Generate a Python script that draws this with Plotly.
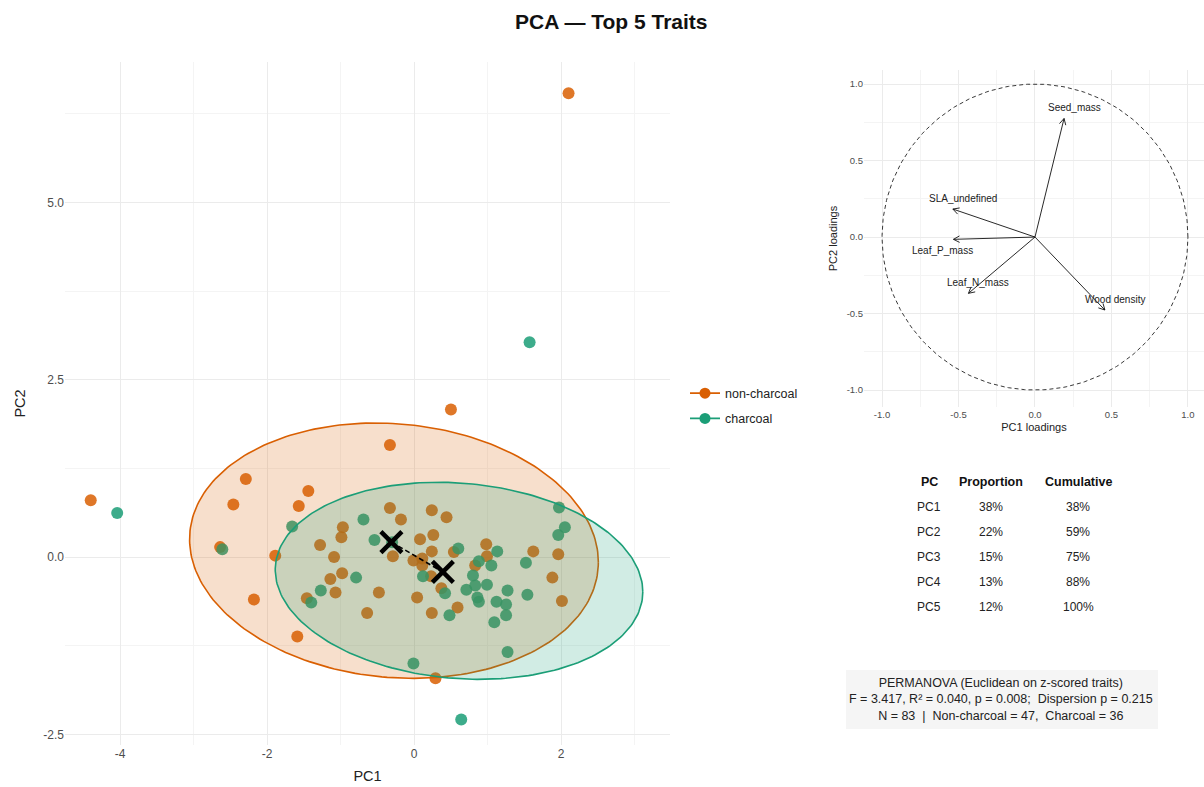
import numpy as np
import plotly.graph_objects as go

# ---------------------------------------------------------------- data
# PCA scores (PC1, PC2) per group
noncharcoal_pc1 = [2.10, 0.50, -0.33, -4.40, -2.29, -2.46, -1.44, -1.57, -2.64, -1.89,
                   -2.18, -1.59, 0.29, 2.01, -0.33, -0.18, -0.97, -0.99, -1.28, -0.29,
                   -1.09, 0.08, -0.01, 0.11, 0.11, -0.98, -1.14, -1.07, -0.48, -1.46,
                   -0.64, 0.04, 0.24, 0.44, 0.26, 0.24, 0.54, 0.98, 0.99, 0.83,
                   0.23, 0.37, 0.59, 0.24, 1.62, 1.96, 1.88]
noncharcoal_pc2 = [6.54, 2.08, 1.58, 0.80, 1.10, 0.74, 0.93, 0.72, 0.14, 0.02,
                   -0.60, -1.12, -1.71, -0.62, 0.69, 0.53, 0.42, 0.28, 0.17, 0.01,
                   0.00, 0.25, -0.05, -0.12, -0.02, -0.23, -0.31, -0.50, -0.50, -0.58,
                   -0.79, -0.57, 0.66, 0.56, 0.31, 0.08, 0.07, 0.18, 0.01, -0.12,
                   -0.27, -0.44, -0.71, -0.79, 0.08, 0.04, -0.29]
charcoal_pc1 = [1.57, -4.04, -2.61, -1.66, -0.01, 1.27, 0.64, -0.69, -0.54, -0.30,
                -0.79, -1.27, -1.40, 0.12, 0.60, 1.13, 0.88, 1.05, 0.80, 0.83,
                0.99, 0.71, 0.42, 0.86, 0.88, 1.27, 1.12, 1.25, 1.25, 1.09,
                0.48, 1.52, 1.96, 2.05, 1.97, 1.54]
charcoal_pc2 = [3.03, 0.62, 0.11, 0.43, -1.50, -1.34, -2.29, 0.53, 0.24, 0.21,
                -0.29, -0.47, -0.64, -0.27, 0.12, 0.08, -0.06, -0.12, -0.26, -0.40,
                -0.39, -0.46, -0.51, -0.57, -0.63, -0.47, -0.63, -0.67, -0.82, -0.92,
                -0.82, -0.08, 0.31, 0.42, 0.70, -0.53]

# group centroids: [non-charcoal, charcoal]
centroid_pc1 = [-0.31, 0.39]
centroid_pc2 = [0.21, -0.21]

# 95% ellipses: centre and covariance (xx, yy, xy)
ellipse_center = {"non-charcoal": (-0.275, 0.09), "charcoal": (0.61, -0.335)}
ellipse_cov = {"non-charcoal": (7.73, 3.24, -0.45), "charcoal": (6.25, 1.93, -0.39)}

# trait loadings
trait_names = ["Seed_mass", "SLA_undefined", "Leaf_P_mass", "Leaf_N_mass", "Wood density"]
loading_pc1 = [0.19, -0.537, -0.533, -0.435, 0.457]
loading_pc2 = [0.775, 0.183, -0.015, -0.368, -0.477]

# variance explained
pc_labels = ["PC1", "PC2", "PC3", "PC4", "PC5"]
proportion_pct = [38, 22, 15, 13, 12]
cumulative_pct = [38, 59, 75, 88, 100]

permanova_lines = [
    "PERMANOVA (Euclidean on z-scored traits)",
    "F = 3.417, R\u00b2 = 0.040, p = 0.008;  Dispersion p = 0.215",
    "N = 83  |  Non-charcoal = 47,  Charcoal = 36",
]

# ---------------------------------------------------------------- styling
W, H = 1204, 787
FONT = "Liberation Sans, Arial, sans-serif"
ORANGE = "#D95F02"
TEAL = "#1B9E77"
GRID = "#EBEBEB"
MINOR = "#F4F4F4"
TICK = "#4D4D4D"


def px_x(p):
    return p / W


def px_y(p):
    return 1 - p / H


def paper_text(xp, yp, text, size, color="#222222", **kw):
    fig.add_annotation(x=px_x(xp), y=px_y(yp), xref="paper", yref="paper",
                       xanchor="center", yanchor="middle", text=text,
                       showarrow=False, font=dict(family=FONT, size=size, color=color), **kw)


def ellipse_xy(center, cov, n=240):
    sxx, syy, sxy = cov
    L = np.array([[np.sqrt(sxx), 0.0],
                  [sxy / np.sqrt(sxx), np.sqrt(syy - sxy ** 2 / sxx)]])
    t = np.linspace(0, 2 * np.pi, n)
    pts = L @ np.vstack([np.cos(t), np.sin(t)])
    return pts[0] + center[0], pts[1] + center[1]


fig = go.Figure()

# points (drawn beneath the ellipse fills)
fig.add_trace(go.Scatter(x=noncharcoal_pc1, y=noncharcoal_pc2, mode="markers",
                         marker=dict(color=ORANGE, size=12, opacity=0.85),
                         showlegend=False, hoverinfo="skip"))
fig.add_trace(go.Scatter(x=charcoal_pc1, y=charcoal_pc2, mode="markers",
                         marker=dict(color=TEAL, size=12, opacity=0.85),
                         showlegend=False, hoverinfo="skip"))

# ellipses
for grp, col, fillc in [("non-charcoal", ORANGE, "rgba(217,95,2,0.2)"),
                        ("charcoal", TEAL, "rgba(27,158,119,0.2)")]:
    ex, ey = ellipse_xy(ellipse_center[grp], ellipse_cov[grp])
    fig.add_trace(go.Scatter(x=ex, y=ey, mode="lines", fill="toself",
                             fillcolor=fillc, line=dict(color=col, width=1.6),
                             showlegend=False, hoverinfo="skip"))

# legend entries
for grp, col in [("non-charcoal", ORANGE), ("charcoal", TEAL)]:
    fig.add_trace(go.Scatter(x=[None], y=[None], mode="lines+markers", name=grp,
                             legendgroup=grp,
                             marker=dict(color=col, size=11),
                             line=dict(color=col, width=1.6)))

# centroid link and markers
fig.add_trace(go.Scatter(x=centroid_pc1, y=centroid_pc2, mode="lines",
                         line=dict(color="black", width=1.6, dash="5px,3px"),
                         showlegend=False, hoverinfo="skip"))
fig.add_trace(go.Scatter(x=centroid_pc1, y=centroid_pc2, mode="markers",
                         marker=dict(symbol="x-thin", size=21, color="black",
                                     line=dict(color="black", width=4.5)),
                         showlegend=False, hoverinfo="skip"))

# ---------------------------------------------------------------- loadings panel
t = np.linspace(0, 2 * np.pi, 300)
fig.add_trace(go.Scatter(x=np.cos(t), y=np.sin(t), mode="lines",
                         line=dict(color="#222222", width=0.9, dash="4px,3px"),
                         xaxis="x2", yaxis="y2", showlegend=False, hoverinfo="skip"))

ax, ay = [], []
head = 0.045
ang = np.deg2rad(28)
for lx, ly in zip(loading_pc1, loading_pc2):
    ax += [0, lx, None]
    ay += [0, ly, None]
    d = np.array([lx, ly]) / np.hypot(lx, ly)
    for s in (ang, -ang):
        r = np.array([[np.cos(s), -np.sin(s)], [np.sin(s), np.cos(s)]]) @ d
        ax += [lx - head * r[0], lx, None]
        ay += [ly - head * r[1], ly, None]
fig.add_trace(go.Scatter(x=ax, y=ay, mode="lines",
                         line=dict(color="#111111", width=0.9),
                         xaxis="x2", yaxis="y2", showlegend=False, hoverinfo="skip"))

label_nudge = {"Leaf_P_mass": (-0.069, -0.075)}
for name, lx, ly in zip(trait_names, loading_pc1, loading_pc2):
    dx, dy = label_nudge.get(name, (0.065, 0.07))
    fig.add_annotation(x=lx + dx, y=ly + dy, xref="x2", yref="y2", text=name,
                       xanchor="center", yanchor="middle",
                       showarrow=False, font=dict(family=FONT, size=10, color="#222222"))

# ---------------------------------------------------------------- table
cols_px = [929, 991, 1078]
headers = ["PC", "Proportion", "Cumulative"]
for cx, h in zip(cols_px, headers):
    paper_text(cx, 482, f"<b>{h}</b>", 12.5, "#111111")
for i, (pc, p, c) in enumerate(zip(pc_labels, proportion_pct, cumulative_pct)):
    for cx, txt in zip(cols_px, [pc, f"{p}%", f"{c}%"]):
        paper_text(cx, 507 + 25 * i, txt, 12)

# ---------------------------------------------------------------- PERMANOVA box
fig.add_shape(type="rect", xref="paper", yref="paper",
              x0=px_x(846), x1=px_x(1158), y0=px_y(670), y1=px_y(729),
              fillcolor="#F5F5F5", line=dict(width=0), layer="below")
paper_text(1001, 699, "<br>".join(permanova_lines), 12.5, align="center")

# ---------------------------------------------------------------- title
paper_text(611, 22, "<b>PCA \u2014 Top 5 Traits</b>", 21, "#111111")

axis_common = dict(showline=False, zeroline=False, ticks="", gridcolor=GRID, gridwidth=1)

fig.update_layout(
    width=W, height=H, margin=dict(l=0, r=0, t=0, b=0),
    paper_bgcolor="white", plot_bgcolor="white",
    font=dict(family=FONT, color="#222222"),
    xaxis=dict(domain=[px_x(65), px_x(670)], range=[-4.75, 3.48],
               tickvals=[-4, -2, 0, 2], ticktext=["-4", "-2", "0", "2"],
               tickfont=dict(size=12, color=TICK),
               minor=dict(tickvals=[-3, -1, 1, 3], showgrid=True, gridcolor=MINOR, gridwidth=1),
               title=dict(text="PC1", font=dict(size=14.5, color="#222222"), standoff=10),
               **axis_common),
    yaxis=dict(domain=[px_y(745), px_y(62)], range=[-2.65, 6.98],
               tickvals=[-2.5, 0, 2.5, 5], ticktext=["-2.5", "0.0", "2.5", "5.0"],
               tickfont=dict(size=12, color=TICK),
               minor=dict(tickvals=[-1.25, 1.25, 3.75, 6.25], showgrid=True,
                          gridcolor=MINOR, gridwidth=1),
               title=dict(text="PC2", font=dict(size=14.5, color="#222222"), standoff=14),
               **axis_common),
    xaxis2=dict(domain=[px_x(864), px_x(1204)], range=[-1.118, 1.105], anchor="y2",
                tickvals=[-1, -0.5, 0, 0.5, 1], ticktext=["-1.0", "-0.5", "0.0", "0.5", "1.0"],
                tickfont=dict(size=9.5, color=TICK),
                minor=dict(tickvals=[-0.75, -0.25, 0.25, 0.75], showgrid=True,
                           gridcolor=MINOR, gridwidth=1),
                title=dict(text="PC1 loadings", font=dict(size=11, color="#222222"), standoff=4),
                **axis_common),
    yaxis2=dict(domain=[px_y(407), px_y(70)], range=[-1.111, 1.092], anchor="x2",
                tickvals=[-1, -0.5, 0, 0.5, 1], ticktext=["-1.0", "-0.5", "0.0", "0.5", "1.0"],
                tickfont=dict(size=9.5, color=TICK),
                minor=dict(tickvals=[-0.75, -0.25, 0.25, 0.75], showgrid=True,
                           gridcolor=MINOR, gridwidth=1),
                title=dict(text="PC2 loadings", font=dict(size=11, color="#222222"), standoff=6),
                **axis_common),
    legend=dict(x=px_x(685), y=px_y(406), xanchor="left", yanchor="middle",
                font=dict(family=FONT, size=12.5, color="#222222"),
                bgcolor="rgba(0,0,0,0)", itemwidth=30, tracegroupgap=6),
)

fig.write_html("out.html")
